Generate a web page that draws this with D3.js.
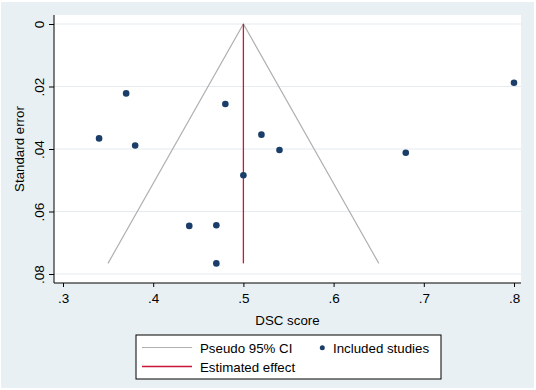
<!DOCTYPE html>
<html>
  <head>
    <meta charset="UTF-8">
    <style>
      body {
        margin: 0;
        background: #fff;
        font-family: "Liberation Sans", Arial, sans-serif;
      }
      text {
        fill: #000;
      }
    </style>
    <script src="https://d3js.org/d3.v7.min.js"></script>
  </head>
  <body>
    <svg id="chart"></svg>

    <script type="text/javascript">
      // study estimates
      const dscScore = [0.37, 0.34, 0.38, 0.48, 0.52, 0.50, 0.54, 0.68, 0.80, 0.44, 0.47, 0.47]
      const stdError = [0.0222, 0.0366, 0.0389, 0.0256, 0.0354, 0.0484, 0.0403, 0.0412, 0.0188, 0.0646, 0.0644, 0.0766]

      const estimatedEffect = 0.5
      const xTicks = [0.3, 0.4, 0.5, 0.6, 0.7, 0.8]
      const yTicks = [0, 0.02, 0.04, 0.06, 0.08]
      const legendLabels = ['Pseudo 95% CI', 'Included studies', 'Estimated effect']

      const width = 536
      const height = 390
      const plot = { left: 54, right: 521, top: 15, bottom: 283 }

      const colors = {
        bg: '#e9f0f3',
        grid: '#e4ecef',
        point: '#1a3d69',
        effect: '#c8173a',
        ci: '#b0b0b0'
      }

      const svg = d3.select('#chart')
        .attr('width', width)
        .attr('height', height)

      svg.append('rect')
        .attr('x', 1).attr('y', 2)
        .attr('width', 533).attr('height', 386)
        .attr('fill', colors.bg)

      svg.append('rect')
        .attr('x', plot.left).attr('y', plot.top)
        .attr('width', plot.right - plot.left)
        .attr('height', plot.bottom - plot.top)
        .attr('fill', '#fff')

      const x = d3.scaleLinear()
        .domain([0.3, 0.8])
        .range([63, 514])

      const y = d3.scaleLinear()
        .domain([0, 0.08])
        .range([24, 274])

      const fmt = d => d === 0 ? '0' : d3.format('.2~f')(d).replace(/^0/, '')

      // grid lines
      svg.append('g')
        .selectAll('line')
        .data(yTicks)
        .join('line')
        .attr('x1', plot.left).attr('x2', plot.right)
        .attr('y1', d => y(d)).attr('y2', d => y(d))
        .attr('stroke', colors.grid)
        .attr('stroke-width', 1.2)

      // pseudo 95% CI funnel
      const seMax = d3.max(stdError)
      const funnel = [
        [estimatedEffect - 1.96 * seMax, seMax],
        [estimatedEffect, 0],
        [estimatedEffect + 1.96 * seMax, seMax]
      ]
      svg.append('path')
        .datum(funnel)
        .attr('d', d3.line().x(d => x(d[0])).y(d => y(d[1])))
        .attr('fill', 'none')
        .attr('stroke', colors.ci)
        .attr('stroke-width', 1.2)

      // estimated effect
      svg.append('line')
        .attr('x1', x(estimatedEffect)).attr('x2', x(estimatedEffect))
        .attr('y1', y(0)).attr('y2', y(seMax))
        .attr('stroke', colors.effect)
        .attr('stroke-width', 1.3)

      // studies
      svg.append('g')
        .selectAll('circle')
        .data(dscScore.map((d, i) => [d, stdError[i]]))
        .join('circle')
        .attr('cx', d => x(d[0]))
        .attr('cy', d => y(d[1]))
        .attr('r', 3.3)
        .attr('fill', colors.point)

      // x axis
      const xAxis = svg.append('g')
        .attr('transform', `translate(0, ${plot.bottom})`)
        .call(d3.axisBottom(x).tickValues(xTicks).tickFormat(fmt).tickSize(4).tickPadding(5))
      xAxis.select('.domain').remove()
      xAxis.append('line')
        .attr('x1', plot.left).attr('x2', plot.right)
        .attr('stroke', '#000')
      xAxis.selectAll('.tick line').attr('stroke', '#000')
      xAxis.selectAll('.tick text')
        .attr('font-size', 13.5)
        .attr('dy', 0)
        .attr('y', 19.5)
        .style('fill', '#000')

      // y axis
      const yAxis = svg.append('g')
        .attr('transform', `translate(${plot.left}, 0)`)
        .call(d3.axisLeft(y).tickValues(yTicks).tickFormat(fmt).tickSize(5))
      yAxis.select('.domain').remove()
      yAxis.append('line')
        .attr('y1', plot.top).attr('y2', plot.bottom)
        .attr('stroke', '#000')
      yAxis.selectAll('.tick line').attr('stroke', '#000')
      yAxis.selectAll('.tick text')
        .attr('font-size', 13.5)
        .attr('x', null).attr('dy', null)
        .attr('text-anchor', 'middle')
        .attr('transform', 'translate(-10.5, 0) rotate(-90)')
        .style('fill', '#000')

      svg.append('text')
        .attr('x', (plot.left + plot.right) / 2)
        .attr('y', 325)
        .attr('text-anchor', 'middle')
        .attr('font-size', 13.3)
        .text('DSC score')

      svg.append('text')
        .attr('transform', `translate(24, ${(plot.top + plot.bottom) / 2}) rotate(-90)`)
        .attr('text-anchor', 'middle')
        .attr('font-size', 13.3)
        .text('Standard error')

      // legend
      const legend = svg.append('g')
      legend.append('rect')
        .attr('x', 136).attr('y', 335)
        .attr('width', 305).attr('height', 44)
        .attr('fill', '#fff')
        .attr('stroke', '#000')

      legend.append('line')
        .attr('x1', 142).attr('x2', 192)
        .attr('y1', 347.5).attr('y2', 347.5)
        .attr('stroke', colors.ci).attr('stroke-width', 1.2)
      legend.append('line')
        .attr('x1', 142).attr('x2', 192)
        .attr('y1', 366.5).attr('y2', 366.5)
        .attr('stroke', colors.effect).attr('stroke-width', 1.3)
      legend.append('circle')
        .attr('cx', 322.3).attr('cy', 347.7)
        .attr('r', 2.5)
        .attr('fill', colors.point)

      legend.append('text').attr('x', 200).attr('y', 353).attr('font-size', 13.3).text(legendLabels[0])
      legend.append('text').attr('x', 333).attr('y', 353).attr('font-size', 13.3).text(legendLabels[1])
      legend.append('text').attr('x', 200).attr('y', 371.5).attr('font-size', 13.3).text(legendLabels[2])
    </script>
  </body>
</html>
